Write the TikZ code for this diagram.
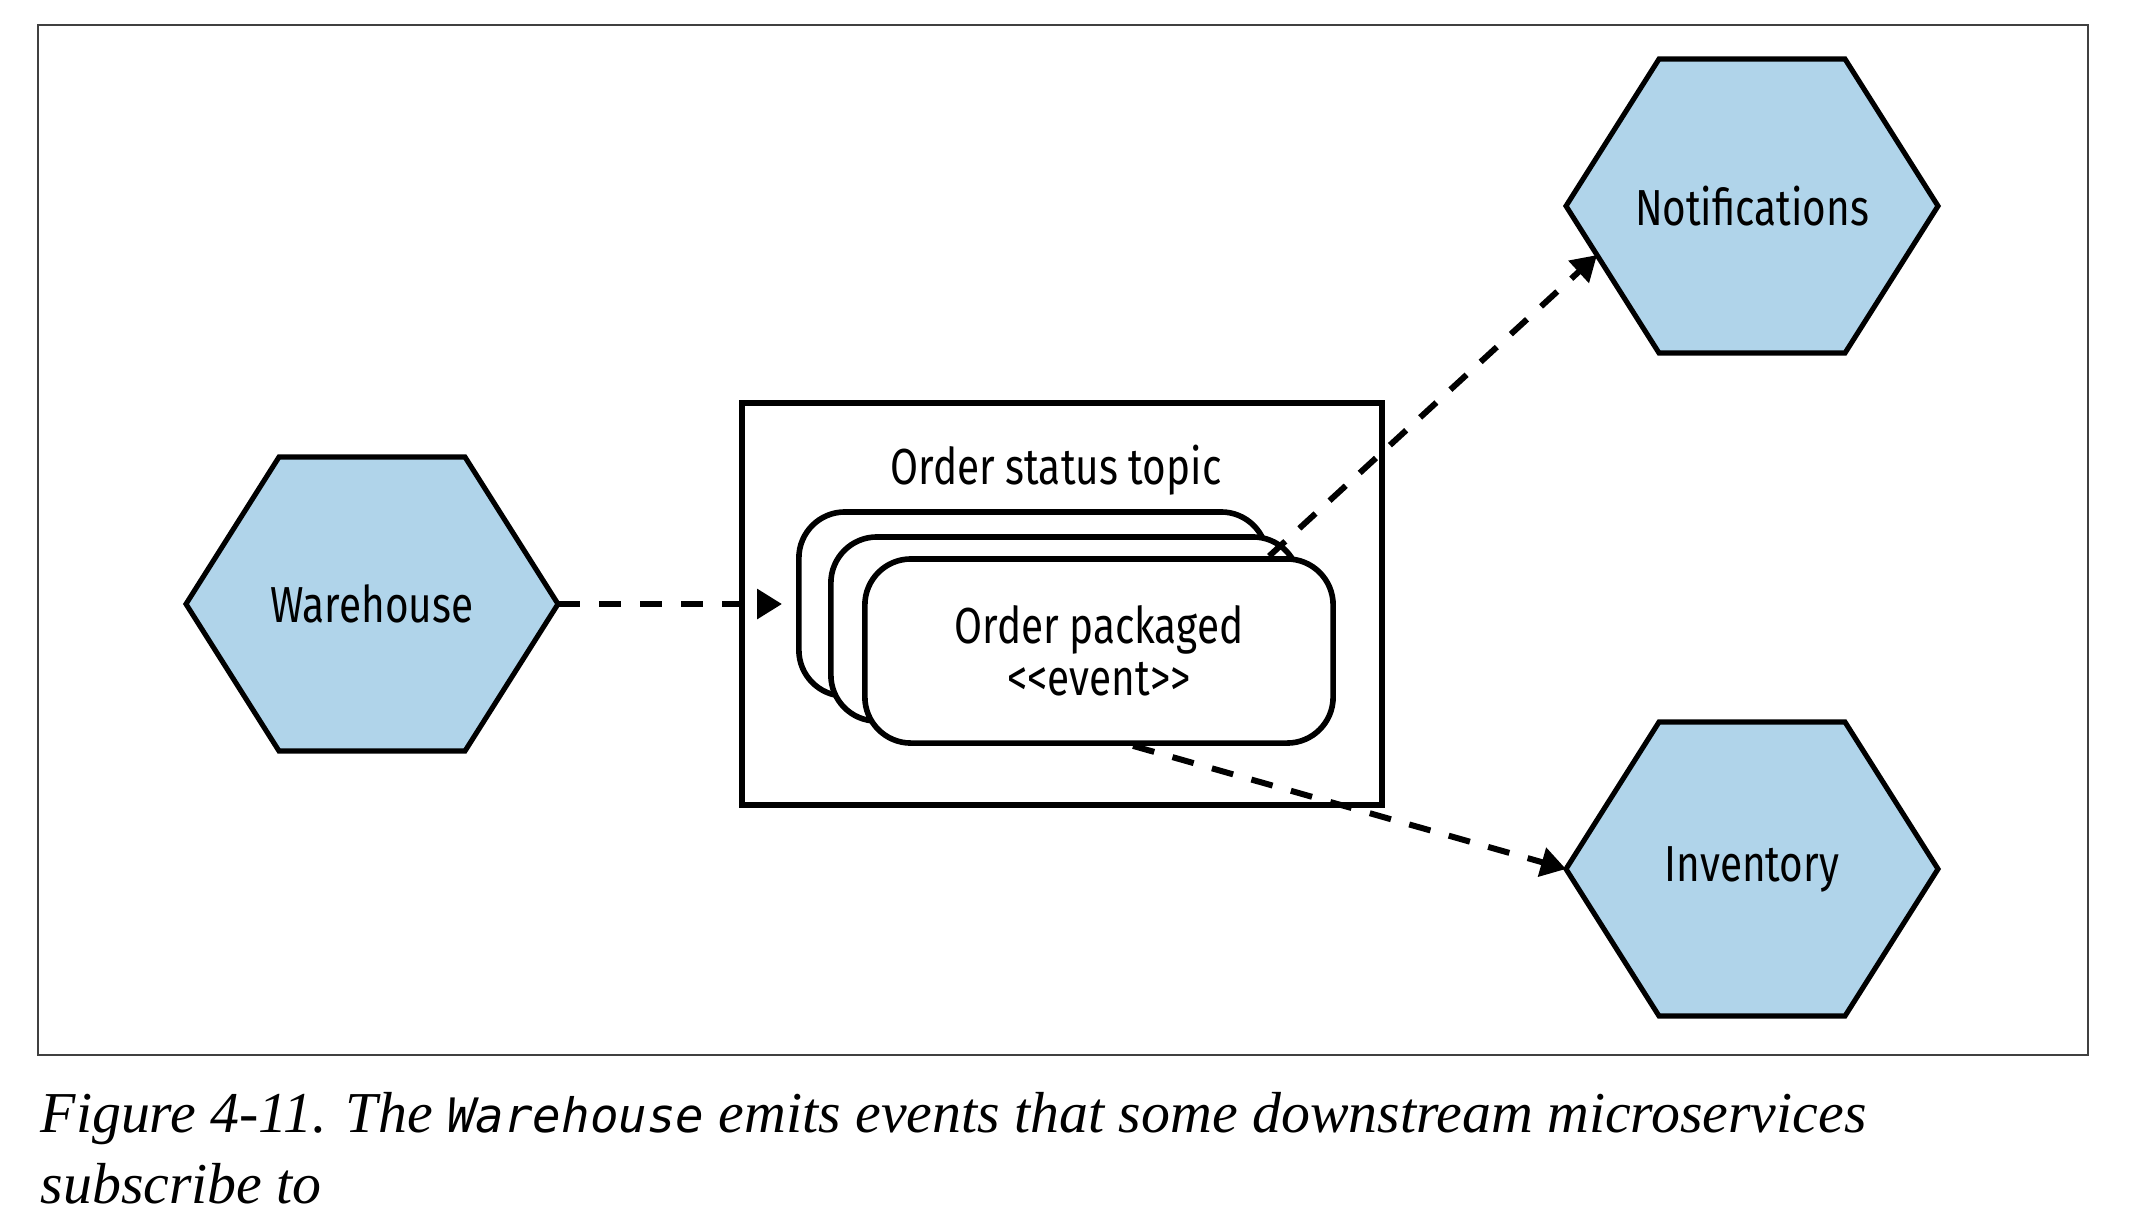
\documentclass[tikz,border=0pt]{standalone}
\usepackage{fontspec}
\setmainfont{Liberation Serif}
\newfontfamily\lblfont{Fira Sans}[FakeStretch=0.8]
\newfontfamily\codefont{DejaVu Sans Mono}
\usetikzlibrary{positioning, arrows.meta}
\definecolor{hexblue}{RGB}{176,212,234}
\newcommand{\lblsize}{\lblfont\fontsize{14.4}{14.8}\selectfont}
\newcommand{\publisharrow}{-{Triangle[length=2.5mm,width=2.9mm]}}
\tikzset{
  outerframe/.style={draw=black!75, line width=0.45pt},
  hexshape/.style={draw, fill=hexblue, line width=1.45pt, line join=miter},
  servicelabel/.style={font=\lblsize},
  topicbox/.style={draw, line width=1.7pt, minimum width=6.39cm, minimum height=4.02cm},
  eventcard/.style={draw, fill=white, rounded corners=4.6mm, line width=1.6pt,
    minimum width=4.68cm, minimum height=1.84cm, align=center, font=\lblsize},
  publish/.style={\publisharrow, line width=1.7pt, dash pattern=on 2.2mm off 1.9mm},
  captext/.style={anchor=base west, inner sep=0pt, font=\fontsize{16.45}{20}\selectfont\itshape}
}
\begin{document}
\begin{tikzpicture}[x=0.01cm, y=-0.01cm]
    \useasboundingbox (0,0) rectangle (2130,1226);
    \draw[outerframe] (38,25) rectangle (2088,1055);
    % services
    \foreach \name/\pos/\txt in {warehouse/{372,604}/Warehouse,
        notifications/{1752,206}/Notifications, inventory/{1752,869}/Inventory} {
        \draw[hexshape] (\pos) ++(-186,0) coordinate (\name-w) -- ++(93,-147) -- ++(186,0)
            -- ++(93,147) coordinate (\name-e) -- ++(-93,147) -- ++(-186,0) -- cycle;
        \path (\pos) ++(-155,49) coordinate (\name-port);
        \node[servicelabel] (\name) at (\pos) {\txt};
    }
    % topic with its stacked events
    \node[topicbox] (topic) at (1062,604) {};
    \node[anchor=base, font=\lblsize] (topiclabel) at (1056,484) {Order status topic};
    \node[eventcard] (evone) at (1033,604) {};
    \node[eventcard] (evtwo) at ([shift={(32,25)}]evone) {};
    \node[eventcard] (evthree) at ([shift={(34,22)}]evtwo) {Order packaged\\<\kern0pt<event>\kern0pt>};
    \draw[publish, shorten >=1.4mm] (warehouse-e) -- (evone.west);
    \draw[publish] ([xshift=1.7cm]evthree.north) -- (notifications-port);
    \draw[publish] ([xshift=0.34cm]evthree.south) -- (inventory-w);
    % caption
    \node[captext] (caption) at (40,1132) {Figure 4-11. The {\codefont\fontsize{13.5}{15}\selectfont Warehouse} emits events that some downstream microservices};
    \node[captext] (captiontail) at (40,1203) {subscribe to};
\end{tikzpicture}
\end{document}
